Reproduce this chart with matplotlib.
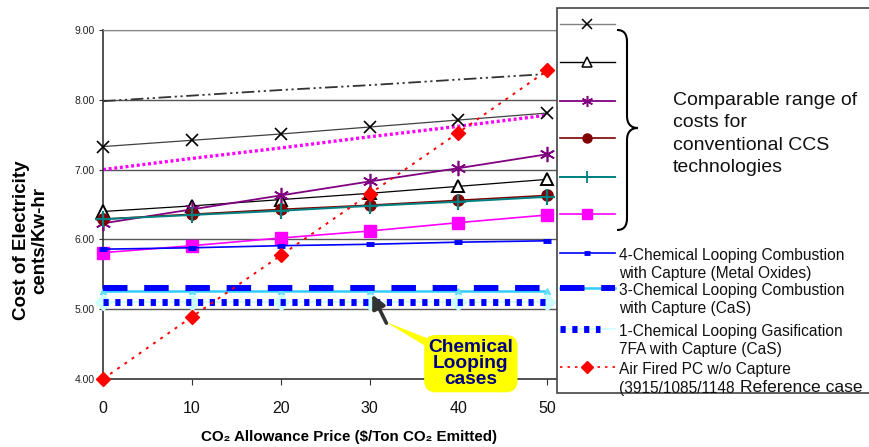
import matplotlib

matplotlib.use('Agg')

import matplotlib.pyplot as plt
from matplotlib.lines import Line2D
from matplotlib.patches import Rectangle, PathPatch
from matplotlib.path import Path

plt.rcParams['font.family'] = ['Liberation Sans', 'DejaVu Sans']

W, H = 870, 447

# data (cents/kWh vs CO2 price)
co2_price = [0, 10, 20, 30, 40, 50]
ccs_cross = [7.33, 7.42, 7.51, 7.61, 7.71, 7.81]
ccs_triangle = [6.40, 6.48, 6.57, 6.66, 6.76, 6.86]
ccs_star = [6.23, 6.43, 6.63, 6.83, 7.02, 7.22]
ccs_circle = [6.29, 6.36, 6.43, 6.49, 6.56, 6.63]
ccs_plus = [6.29, 6.35, 6.41, 6.48, 6.54, 6.61]
ccs_square = [5.81, 5.91, 6.02, 6.12, 6.24, 6.35]
clc_metal = [5.86, 5.88, 5.91, 5.93, 5.96, 5.98]
clc_cas = [5.30, 5.30, 5.30, 5.30, 5.30, 5.30]
clc_cas_base = [5.26, 5.26, 5.26, 5.26, 5.26, 5.26]
clg_cas = [5.10, 5.10, 5.10, 5.10, 5.10, 5.10]
air_pc = [4.00, 4.89, 5.77, 6.65, 7.53, 8.42]
upper_trend = [7.98, 8.06, 8.14, 8.21, 8.29, 8.37]
lower_trend = [7.00, 7.16, 7.31, 7.47, 7.62, 7.78]

y_ticks = [4, 5, 6, 7, 8, 9]
legend_labels = ['', '', '', '', '', '',
                 '4-Chemical Looping Combustion\nwith Capture (Metal Oxides)',
                 '3-Chemical Looping Combustion\nwith Capture (CaS)',
                 '1-Chemical Looping Gasification\n7FA with Capture (CaS)',
                 'Air Fired PC w/o Capture']


def px(x, y):
    # pixel position (from top left) -> figure fraction
    return x / W, 1 - y / H


fig = plt.figure(figsize=(8.7, 4.47), dpi=100)
ax = fig.add_axes([103 / W, 1 - 379 / H, (557 - 103) / W, (379 - 30) / H])

ax.set_xlim(0, 51.1)
ax.set_ylim(4, 9)
for v in y_ticks[1:]:
    ax.axhline(v, color='#555555', lw=1.0, zorder=0)

ax.plot(co2_price, upper_trend, color='#333333', lw=1.3,
        linestyle=(0, (7, 2, 1.2, 2, 1.2, 2)), zorder=2)
ax.plot(co2_price, lower_trend, color='#FF00FF', lw=2.4,
        linestyle=(0, (0.9, 0.8)), zorder=2)

styles = dict(clip_on=False, zorder=3)
ax.plot(co2_price, ccs_cross, color='#404040', lw=0.9, marker='x', ms=9,
        mec='black', mew=1.2, **styles)
ax.plot(co2_price, ccs_triangle, color='black', lw=0.9, marker='^', ms=9,
        mfc='white', mec='black', mew=1.4, **styles)
ax.plot(co2_price, ccs_star, color='#800080', lw=1.3, marker=(6, 2, 0), ms=11,
        mew=1.2, **styles)
ax.plot(co2_price, ccs_circle, color='#800000', lw=1.2, marker='o', ms=8,
        **styles)
ax.plot(co2_price, ccs_plus, color='#008080', lw=1.4, marker='+', ms=11,
        mew=1.6, **styles)
ax.plot(co2_price, ccs_square, color='#FF00FF', lw=1.2, marker='s', ms=8,
        **styles)
ax.plot(co2_price, clc_metal, color='#0000FF', lw=1.2, marker='_', ms=6,
        mew=3.5, **styles)

ax.plot(co2_price, clc_cas_base, color='#33CCFF', lw=1.8, marker='^', ms=5,
        mfc='#66DDFF', mec='#66DDFF', **styles)
ax.plot(co2_price, clc_cas, color='#0000FF', lw=4.3, solid_capstyle='butt',
        dash_capstyle='butt', linestyle=(0, (4.1, 2.8)), **styles)
ax.plot(co2_price, clg_cas, color='#CCFFFF', lw=1.2, marker='D', ms=8,
        mfc='#CCFFFF', mec='#CCFFFF', **styles)
ax.plot(co2_price, clg_cas, color='#0000FF', lw=5.0, dash_capstyle='butt',
        linestyle=(0, (0.75, 0.95)), **styles)

ax.plot(co2_price, air_pc, color='#FF0000', lw=1.4, linestyle=(0, (1.5, 3)),
        marker='D', ms=7.5, mec='#FF0000', mfc='#FF0000', clip_on=False, zorder=4)

ax.set_yticks(y_ticks)
ax.set_yticklabels(['%.2f' % v for v in y_ticks])
ax.set_xticks(co2_price)
ax.tick_params(axis='y', labelsize=7.5, length=3, pad=3, colors='#333333',
               labelcolor='#222222')
ax.tick_params(axis='x', labelsize=11.5, length=4, pad=12, colors='#333333',
               labelcolor='#111111')
for side in ['left', 'bottom']:
    ax.spines[side].set_color('#333333')
    ax.spines[side].set_linewidth(1.2)
ax.spines['top'].set_color('#888888')
ax.spines['right'].set_visible(False)

fig.text(*px(349, 437), 'CO\u2082 Allowance Price ($/Ton CO\u2082 Emitted)',
         ha='center', va='center', fontsize=10.9, fontweight='bold')
fig.text(*px(31, 240), 'Cost of Electricity\ncents/Kw-hr', rotation=90,
         ha='center', va='center', fontsize=13.5, fontweight='bold',
         multialignment='center', linespacing=1.1)

# callout
ax.annotate('', xy=(31.8, 4.82), xytext=(40.8, 4.25),
            arrowprops=dict(arrowstyle='wedge,tail_width=1.1', fc='#FFFF00',
                            ec='none', shrinkA=0, shrinkB=0),
            annotation_clip=False, zorder=5)
ax.annotate('', xy=(30.3, 5.21), xytext=(31.9, 4.80),
            arrowprops=dict(arrowstyle='-|>', color='#333333', lw=2.6,
                            mutation_scale=20, shrinkA=0, shrinkB=0),
            annotation_clip=False, zorder=6)
ax.text(41.4, 4.22, 'Chemical\nLooping\ncases', ha='center', va='center',
        fontsize=13.8, fontweight='bold', color='#000080', linespacing=0.92,
        bbox=dict(boxstyle='round,pad=0.22,rounding_size=0.6', fc='#FFFF00',
                  ec='none'), clip_on=False, zorder=7)

# legend box drawn by hand so the rows match the original spacing
fig.add_artist(Rectangle(px(557, 393), 400 / W, (393 - 8) / H,
                         transform=fig.transFigure, fc='white', ec='#444444',
                         lw=1.2, zorder=2))

row_y = [24, 62, 101, 138, 177, 214, 253, 288, 329, 367]
hx = [560, 587, 615]


def handle(y, **kw):
    xs = [px(x, y)[0] for x in hx]
    ys = [px(0, y)[1]] * 3
    fig.add_artist(Line2D(xs, ys, transform=fig.transFigure, markevery=[1],
                          zorder=3, **kw))


handle(row_y[0], color='#808080', lw=1.0, marker='x', ms=7, mec='black', mew=1.1)
handle(row_y[1], color='black', lw=1.0, marker='^', ms=6.5, mfc='white',
       mec='black', mew=1.1)
handle(row_y[2], color='#800080', lw=1.3, marker=(6, 2, 0), ms=8, mew=1.1)
handle(row_y[3], color='#800000', lw=1.2, marker='o', ms=6.5)
handle(row_y[4], color='#008080', lw=1.4, marker='+', ms=9, mew=1.3)
handle(row_y[5], color='#FF00FF', lw=1.2, marker='s', ms=7)
handle(row_y[6], color='#0000FF', lw=1.2, marker='_', ms=5, mew=3.5)
handle(row_y[7], color='#33CCFF', lw=1.8, marker=None)
handle(row_y[7], color='#0000FF', lw=4.3, dash_capstyle='butt',
       linestyle=(0, (4.1, 2.8)), marker=None)
handle(row_y[8], color='#CCFFFF', lw=1.2, marker=None)
fig.add_artist(Line2D([px(560, 0)[0], px(600, 0)[0]], [px(0, 329)[1]] * 2,
                      transform=fig.transFigure, color='#0000FF', lw=5.0,
                      dash_capstyle='butt', linestyle=(0, (0.75, 0.95)), zorder=3))
handle(row_y[9], color='#FF0000', lw=1.2, linestyle=(0, (1.5, 3)), marker='D',
       ms=6, mec='#FF0000', mfc='#FF0000')

for y, lab in zip(row_y, legend_labels):
    if lab:
        fig.text(*px(619, y - 5), lab, ha='left', va='top', fontsize=11.2,
                 linespacing=1.22, color='#111111', zorder=4)
fig.text(*px(619, 381), '(3915/1085/1148', ha='left', va='top', fontsize=11.2,
         color='#111111', zorder=4)
fig.text(*px(740, 388), 'Reference case', ha='left', va='center',
         fontsize=12.6, color='#111111', zorder=4)

# brace and note for the conventional CCS group
pts = [(617, 30), (624, 30), (627, 34), (627, 42), (627, 116),
       (627, 124), (631, 128), (638, 128), (631, 128), (627, 132), (627, 140),
       (627, 218), (627, 226), (624, 230), (617, 230)]
codes = [Path.MOVETO, Path.CURVE4, Path.CURVE4, Path.CURVE4, Path.LINETO,
         Path.CURVE4, Path.CURVE4, Path.CURVE4, Path.CURVE4, Path.CURVE4,
         Path.CURVE4, Path.LINETO, Path.CURVE4, Path.CURVE4, Path.CURVE4]
brace = Path([px(x, y) for x, y in pts], codes)
fig.add_artist(PathPatch(brace, transform=fig.transFigure, fc='none',
                         ec='black', lw=1.5, zorder=4))
fig.text(*px(673, 134), 'Comparable range of\ncosts for\nconventional CCS\ntechnologies',
         ha='left', va='center', fontsize=14, linespacing=1.42, color='#111111',
         zorder=4)

fig.savefig('out.png', dpi=100)
